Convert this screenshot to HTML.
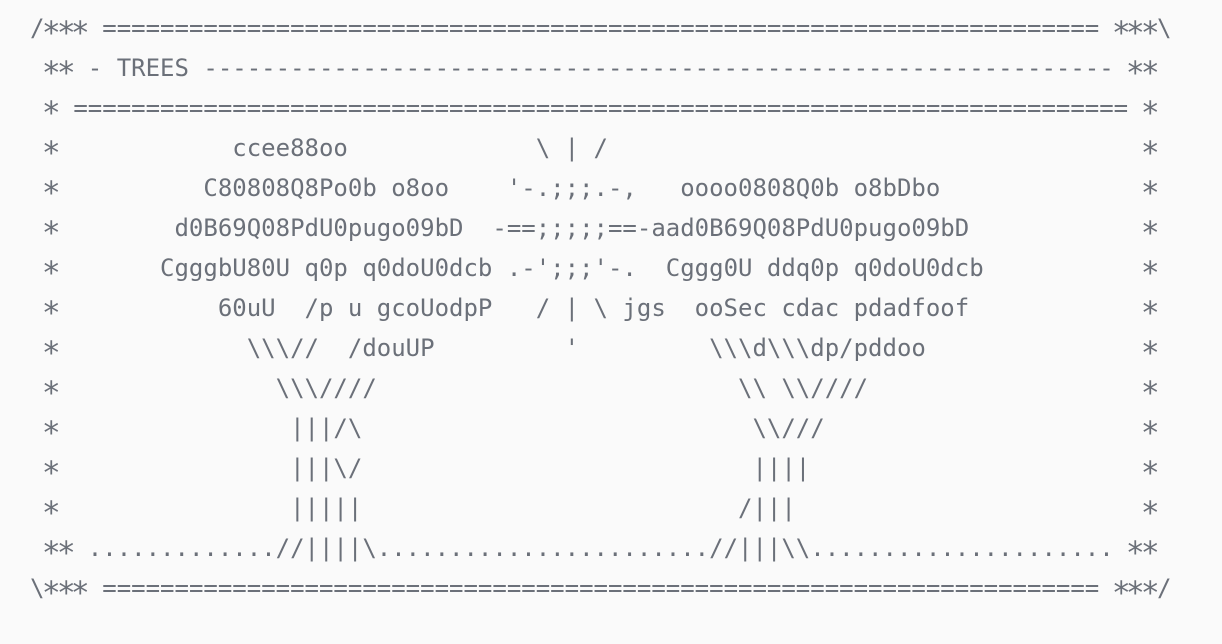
<!DOCTYPE html>
<html><head><meta charset="utf-8">
<style>
html,body{margin:0;padding:0;background:#fafafa;width:1222px;height:644px;overflow:hidden;}
#w{position:absolute;left:30px;top:8px;font-family:"DejaVu Sans Mono","Liberation Mono",monospace;font-size:24px;color:#6b7079;}
.l{position:relative;height:40px;line-height:40px;white-space:pre;}
.l span{position:absolute;top:0;}
.l span.a{top:5px;}
.l span.a i{font-style:normal;display:inline-block;transform:scale(1.3);}
</style></head><body>
<div id="w">
<div class="l"><span style="left:0ch">/</span><span class="a" style="left:1ch"><i>*</i><i>*</i><i>*</i></span><span style="left:4ch"> =====================================================================</span><span class="a" style="left:75ch"><i>*</i><i>*</i><i>*</i></span><span style="left:78ch">\</span></div>
<div class="l"><span class="a" style="left:1ch"><i>*</i><i>*</i></span><span style="left:3ch"> - TREES ---------------------------------------------------------------</span><span class="a" style="left:76ch"><i>*</i><i>*</i></span></div>
<div class="l"><span class="a" style="left:1ch"><i>*</i></span><span style="left:2ch"> =========================================================================</span><span class="a" style="left:77ch"><i>*</i></span></div>
<div class="l"><span class="a" style="left:1ch"><i>*</i></span><span style="left:14ch">ccee88oo</span><span style="left:35ch">\ | /</span><span class="a" style="left:77ch"><i>*</i></span></div>
<div class="l"><span class="a" style="left:1ch"><i>*</i></span><span style="left:12ch">C80808Q8Po0b o8oo</span><span style="left:33ch">'-.;;;.-,</span><span style="left:45ch">oooo0808Q0b o8bDbo</span><span class="a" style="left:77ch"><i>*</i></span></div>
<div class="l"><span class="a" style="left:1ch"><i>*</i></span><span style="left:10ch">d0B69Q08PdU0pugo09bD</span><span style="left:32ch">-==;;;;;==-aad0B69Q08PdU0pugo09bD</span><span class="a" style="left:77ch"><i>*</i></span></div>
<div class="l"><span class="a" style="left:1ch"><i>*</i></span><span style="left:9ch">CgggbU80U q0p q0doU0dcb</span><span style="left:33ch">.-';;;'-.</span><span style="left:44ch">Cggg0U ddq0p q0doU0dcb</span><span class="a" style="left:77ch"><i>*</i></span></div>
<div class="l"><span class="a" style="left:1ch"><i>*</i></span><span style="left:13ch">60uU  /p u gcoUodpP</span><span style="left:35ch">/ | \ jgs</span><span style="left:46ch">ooSec cdac pdadfoof</span><span class="a" style="left:77ch"><i>*</i></span></div>
<div class="l"><span class="a" style="left:1ch"><i>*</i></span><span style="left:15ch">\\\//  /douUP</span><span style="left:37ch">'</span><span style="left:47ch">\\\d\\\dp/pddoo</span><span class="a" style="left:77ch"><i>*</i></span></div>
<div class="l"><span class="a" style="left:1ch"><i>*</i></span><span style="left:17ch">\\\////</span><span style="left:49ch">\\ \\////</span><span class="a" style="left:77ch"><i>*</i></span></div>
<div class="l"><span class="a" style="left:1ch"><i>*</i></span><span style="left:18ch">|||/\</span><span style="left:50ch">\\///</span><span class="a" style="left:77ch"><i>*</i></span></div>
<div class="l"><span class="a" style="left:1ch"><i>*</i></span><span style="left:18ch">|||\/</span><span style="left:50ch">||||</span><span class="a" style="left:77ch"><i>*</i></span></div>
<div class="l"><span class="a" style="left:1ch"><i>*</i></span><span style="left:18ch">|||||</span><span style="left:49ch">/|||</span><span class="a" style="left:77ch"><i>*</i></span></div>
<div class="l"><span class="a" style="left:1ch"><i>*</i><i>*</i></span><span style="left:4ch">.............//||||\</span><span style="left:24ch">.......................//|||\\</span><span style="left:54ch">.....................</span><span class="a" style="left:76ch"><i>*</i><i>*</i></span></div>
<div class="l"><span style="left:0ch">\</span><span class="a" style="left:1ch"><i>*</i><i>*</i><i>*</i></span><span style="left:4ch"> =====================================================================</span><span class="a" style="left:75ch"><i>*</i><i>*</i><i>*</i></span><span style="left:78ch">/</span></div>
</div>
</body></html>
